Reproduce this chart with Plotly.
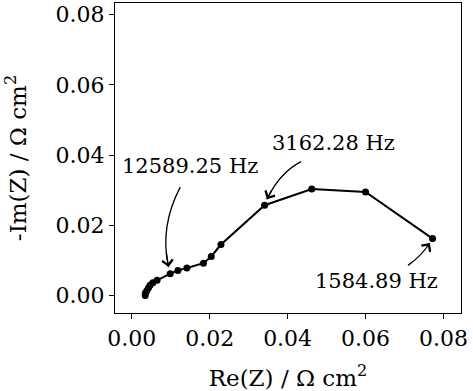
import plotly.graph_objects as go

# Nyquist data (Re(Z), -Im(Z)) in Ohm cm^2
re_z = [0.00346, 0.00350, 0.0039, 0.0043, 0.0047, 0.0054, 0.0065,
        0.00987, 0.01184, 0.01415, 0.0184, 0.0204, 0.0229,
        0.0341, 0.0462, 0.0600, 0.0772]
neg_im_z = [0.0000, 0.0007, 0.0014, 0.0022, 0.0029, 0.0036, 0.0043,
            0.0062, 0.00714, 0.0078, 0.0092, 0.0111, 0.0145,
            0.0257, 0.0303, 0.0295, 0.0162]

# annotations: label, text position, arrow tail, control point, arrow head
ann_labels = ["12589.25 Hz", "3162.28 Hz", "1584.89 Hz"]
ann_text_x = [0.0150, 0.0517, 0.0629]
ann_text_y = [0.0369, 0.0435, 0.0040]
ann_tail_x = [0.01244, 0.04346, 0.0709]
ann_tail_y = [0.03086, 0.0381, 0.00857]
ann_ctrl_x = [0.0071, 0.0381, 0.0742]
ann_ctrl_y = [0.0195, 0.0351, 0.0111]
ann_head_x = [0.00944, 0.03467, 0.0765]
ann_head_y = [0.00809, 0.0274, 0.01494]

x_range = [-0.0043, 0.0845]
y_range = [-0.0050, 0.0833]
tick_vals = [0.00, 0.02, 0.04, 0.06, 0.08]

FONT = "DejaVu Serif"

fig = go.Figure()
fig.add_trace(go.Scatter(
    x=re_z, y=neg_im_z, mode="lines+markers",
    line=dict(color="black", width=2),
    marker=dict(color="black", size=7),
    showlegend=False,
))


def qpt(p0, c, p1, t):
    return (1 - t) ** 2 * p0 + 2 * t * (1 - t) * c + t ** 2 * p1


for i, lab in enumerate(ann_labels):
    x0, y0 = ann_tail_x[i], ann_tail_y[i]
    cx, cy = ann_ctrl_x[i], ann_ctrl_y[i]
    x1, y1 = ann_head_x[i], ann_head_y[i]
    fig.add_shape(type="path", xref="x", yref="y",
                  path=f"M {x0},{y0} Q {cx},{cy} {x1},{y1}",
                  line=dict(color="black", width=1.3))
    # arrowhead drawn over the last part of the curve
    t = 0.8
    fig.add_annotation(x=x1, y=y1, ax=qpt(x0, cx, x1, t), ay=qpt(y0, cy, y1, t),
                       xref="x", yref="y", axref="x", ayref="y",
                       showarrow=True, arrowhead=4, arrowsize=1.6,
                       arrowwidth=1.3, arrowcolor="black", text="")
    fig.add_annotation(x=ann_text_x[i], y=ann_text_y[i], xref="x", yref="y",
                       text=lab, showarrow=False,
                       font=dict(family=FONT, size=21, color="black"))

axis_common = dict(
    showline=True, linecolor="black", linewidth=1.3, mirror=True,
    ticks="outside", ticklen=5, tickwidth=1.3, tickcolor="black",
    showgrid=False, zeroline=False, automargin=False,
    tickfont=dict(family=FONT, size=22, color="black"),
    tickvals=tick_vals, tickformat=".2f",
)

fig.update_xaxes(range=x_range,
                 title=dict(text="Re(Z) / Ω cm<sup>2</sup>", standoff=20,
                            font=dict(family=FONT, size=23, color="black")),
                 **axis_common)
fig.update_yaxes(range=y_range,
                 title=dict(text="-Im(Z) / Ω cm<sup>2</sup>", standoff=22,
                            font=dict(family=FONT, size=23, color="black")),
                 **axis_common)

fig.update_layout(
    width=473, height=391,
    margin=dict(l=115, r=12, t=3, b=78),
    paper_bgcolor="white", plot_bgcolor="white",
    font=dict(family=FONT, color="black"),
)

fig.write_html("out.html", config={"displayModeBar": False},
               post_script="document.body.style.margin='0';")
